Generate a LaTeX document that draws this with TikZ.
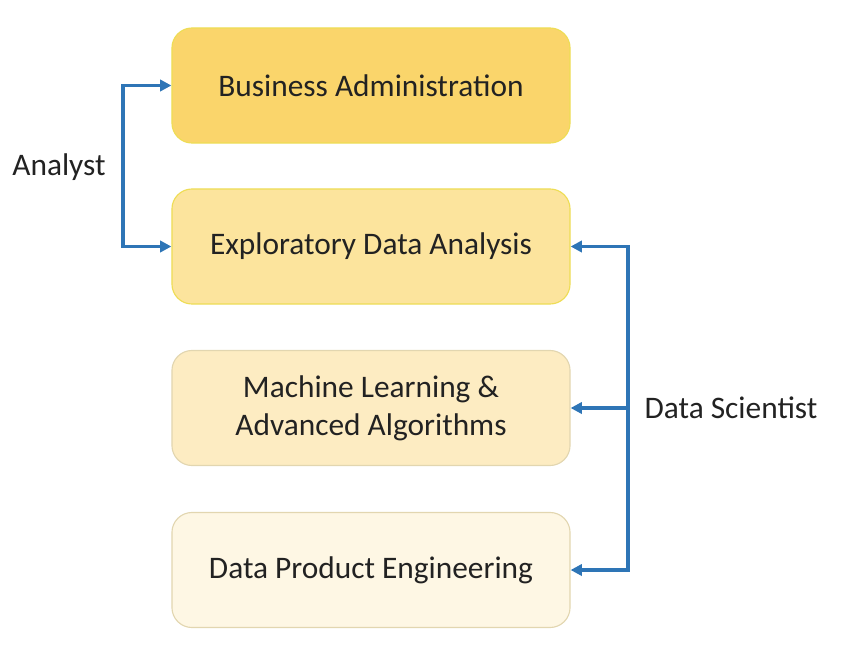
\documentclass[tikz,border=0pt]{standalone}
\usepackage{fontspec}
\setmainfont{Carlito}
\usepackage{tikz}
\usetikzlibrary{arrows.meta}
\definecolor{boxA}{HTML}{FAD56B}
\definecolor{boxB}{HTML}{FCE49D}
\definecolor{boxC}{HTML}{FDECC2}
\definecolor{boxD}{HTML}{FEF7E4}
\definecolor{edgeA}{HTML}{EEDD55}
\definecolor{edgeC}{HTML}{E2D6B0}
\definecolor{link}{HTML}{2E75B6}
\definecolor{ink}{HTML}{222222}
\tikzset{
  stage/.style={rounded corners=0.5cm, minimum width=9.95cm, minimum height=2.875cm,
    align=center, text=ink, font=\fontsize{22.3}{27}\selectfont, line width=0.8pt},
  role/.style={text=ink, font=\fontsize{22.3}{27}\selectfont},
  link/.style={draw=link, line width=2.2pt, -{Triangle[length=8pt,width=8pt]}}
}

\begin{document}
\begin{tikzpicture}[x=0.025cm, y=-0.025cm]
			%%%%% START %%%%%
			\useasboundingbox (0, 0) rectangle (848, 650);
			
			\node[stage, fill=boxA, draw=edgeA] (bus) at (371, 85.5) {Business Administration};
			\node[stage, fill=boxB, draw=edgeA] (eda) at (371, 246.5) {Exploratory Data Analysis};
			\node[stage, fill=boxC, draw=edgeC] (ml) at (371, 408) {Machine Learning \&\\Advanced Algorithms};
			\node[stage, fill=boxD, draw=edgeC] (dpe) at (371, 570) {Data Product Engineering};
			
			\node[role] (analyst) at (59, 167) {Analyst};
			\node[role] (scientist) at (731, 408) {Data Scientist};
			
			\coordinate (aj) at (123, 167);
			\coordinate (sj) at (628, 408);
			
			\draw[link] (aj) |- (bus.west);
			\draw[link] (aj) |- (eda.west);
			\draw[link] (sj) |- (eda.east);
			\draw[link] (sj) -- (ml.east);
			\draw[link] (sj) |- (dpe.east);
			
			%%%%% END %%%%%
\end{tikzpicture}
\end{document}
